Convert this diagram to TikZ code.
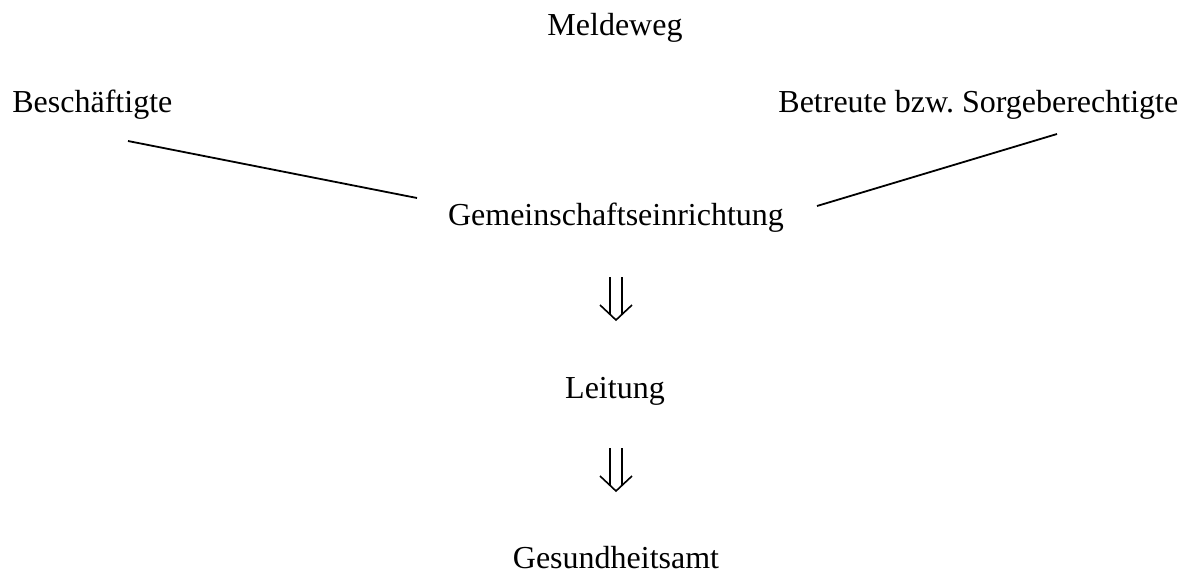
\documentclass[tikz,border=0pt]{standalone}
\usepackage{fontspec}
\setmainfont{Liberation Serif}
\begin{document}
\begin{tikzpicture}[x=0.5pt,y=-0.5pt,
  lbl/.style={anchor=base,inner sep=0pt,font=\fontsize{16}{19}\selectfont},
  link/.style={line width=0.9pt},
  glyph/.style={line width=0.8pt,line join=miter}]
\useasboundingbox (0,0) rectangle (1184,574);
\node[lbl] (title) at (615,35) {Meldeweg};
\node[lbl,anchor=base west] (besch) at (12,112) {Beschäftigte};
\node[lbl,anchor=base west] (betr) at (778,112) {Betreute bzw.\ Sorgeberechtigte};
\node[lbl] (gem) at (616,225) {Gemeinschaftseinrichtung};
\node[lbl] (leit) at (615,398) {Leitung};
\node[lbl] (ges) at (616,568) {Gesundheitsamt};
% connector end points
\coordinate (bA) at (128,141);
\coordinate (bB) at (417,198);
\coordinate (rA) at (817,206);
\coordinate (rB) at (1057,134);
\draw[link] (bA) -- (bB);
\draw[link] (rA) -- (rB);
% double down arrows
\foreach \n/\top in {a1/277,a2/448}{
  \coordinate (\n) at (616,\top);
  \draw[glyph] ([shift={(-6,0)}]\n) -- ++(0,37);
  \draw[glyph] ([shift={(6,0)}]\n) -- ++(0,37);
  \draw[glyph] ([shift={(-16,28)}]\n) -- ([shift={(0,43)}]\n) -- ([shift={(16,28)}]\n);
}
\end{tikzpicture}
\end{document}
